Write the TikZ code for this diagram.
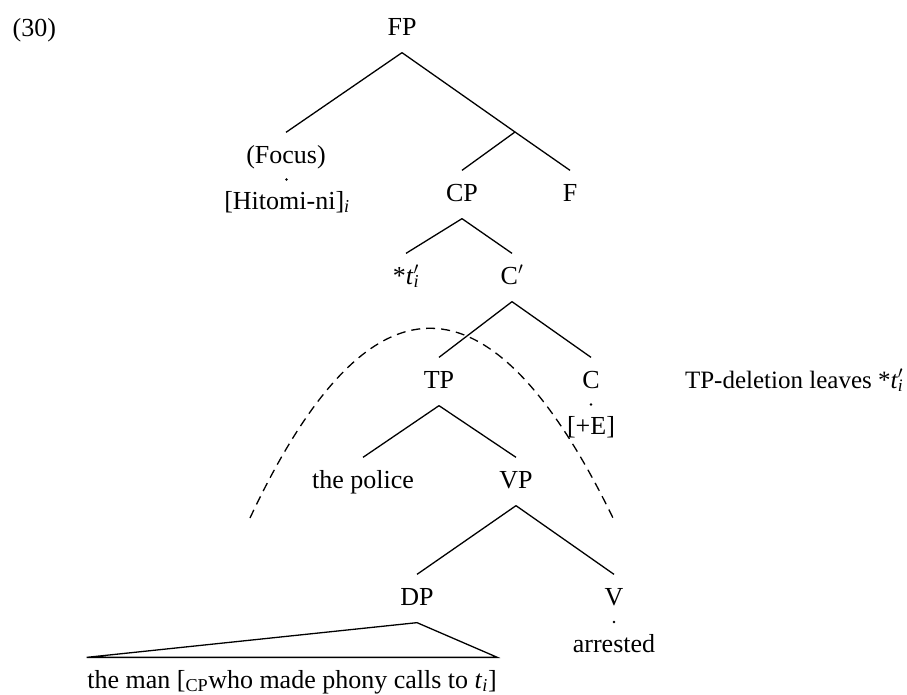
\documentclass[tikz,border=0pt]{standalone}
\usepackage{fontspec}
\setmainfont{Liberation Serif}
\usepackage{tikz}
\newcommand{\trc}{\textit{t}\textsubscript{\textit{i}}}
\newcommand{\trcp}{\textit{t}\rlap{$'$}\textsubscript{\textit{i}}}
\tikzset{
  tn/.style={inner xsep=0pt, inner ysep=12pt, text height=18pt, text depth=5pt, anchor=base},
  dotmark/.style={circle, fill, inner sep=0pt, minimum size=2.8pt}
}

\begin{document}
\begin{tikzpicture}[x=1pt,y=-1pt,line width=1.3pt,font=\fontsize{26}{30}\selectfont]
\useasboundingbox (0,0) rectangle (907,694);
\node [anchor=base west, inner sep=0pt] (ex) at (12,36) {(30)};
\node [tn] (fp) at (402,35) {FP};
\node [tn] (focus) at (286,163) {(Focus)};
\node [tn] (hitomi) at (287,209) {[Hitomi-ni]\textsubscript{\textit{i}}};
\coordinate (fbar) at (515,132);
\node [tn] (cp) at (462,201) {CP};
\node [tn] (f) at (570,201) {F};
\node [tn] (tr) at (406,284) {*\trcp};
\node [tn] (cbar) at (512,284) {C$'$};
\node [tn] (tp) at (439,388) {TP};
\node [tn] (c) at (591,388) {C};
\node [tn] (pluse) at (591,434) {[+E]};
\node [tn] (police) at (363,488) {the police};
\node [tn] (vp) at (516,488) {VP};
\node [tn] (dp) at (417,605) {DP};
\node [tn] (v) at (614,605) {V};
\node [tn] (arr) at (614,652) {arrested};
\node [tn] (man) at (292,688) {the man [\textsubscript{CP}who made phony calls to \trc]};
\node [anchor=base east, inner sep=0pt, font=\fontsize{25}{30}\selectfont] (note) at (904,388) {TP-deletion leaves *\trcp};
\draw [black] (fp.south) -- (focus.north);
\draw [black] (fp.south) -- (fbar) -- (f.north);
\draw [black] (fbar) -- (cp.north);
\path (focus.south) -- (hitomi.north) node [midway, dotmark] (fdot) {};
\draw [black] (cp.south) -- (tr.north);
\draw [black] (cp.south) -- (cbar.north);
\draw [black] (cbar.south) -- (tp.north);
\draw [black] (cbar.south) -- (c.north);
\path (c.south) -- (pluse.north) node [midway, dotmark] (cdot) {};
\draw [black] (tp.south) -- (police.north);
\draw [black] (tp.south) -- (vp.north);
\draw [black] (vp.south) -- (dp.north);
\draw [black] (vp.south) -- (v.north);
\path (v.south) -- (arr.north) node [midway, dotmark] (vdot) {};
\draw [black] (dp.south) -- (man.north east) -- (man.north west) -- cycle;
\coordinate (ellL) at (250,518);
\coordinate (ellR) at (613,518);
\draw [black, dash pattern=on 9pt off 6pt] (ellL) .. controls (369,265) and (490,265) .. (ellR);
\end{tikzpicture}
\end{document}
